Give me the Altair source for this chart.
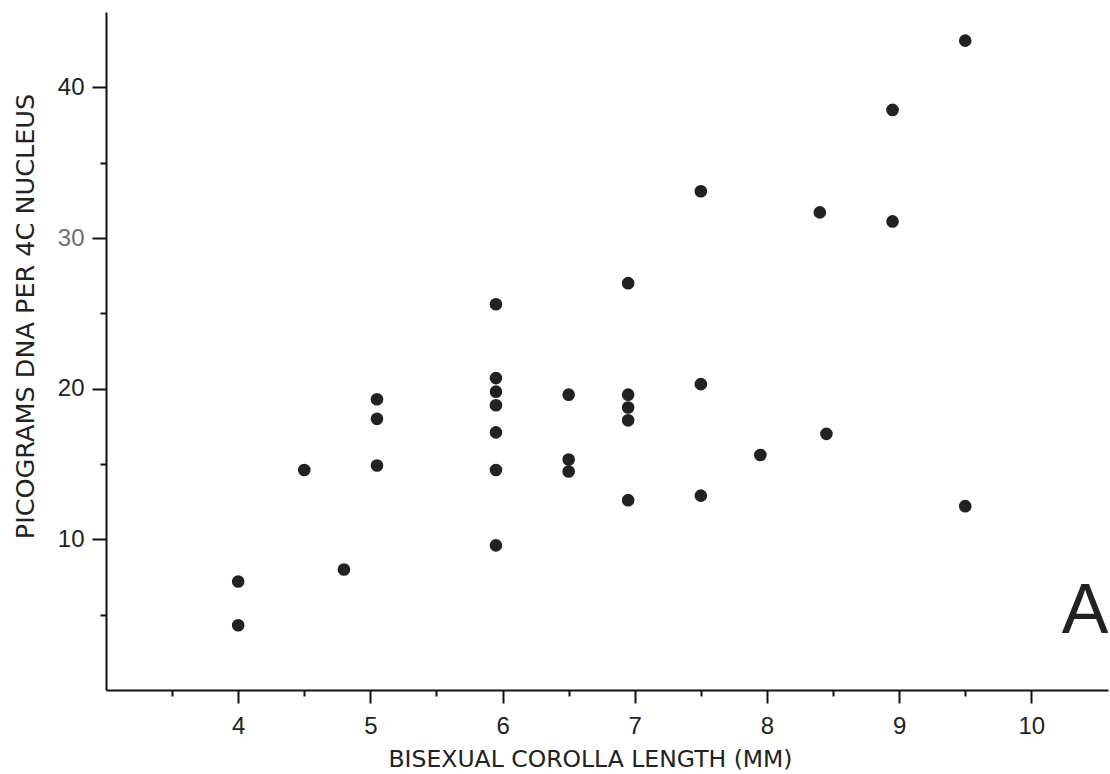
import altair as alt
import pandas as pd

# Bisexual corolla length (mm) and picograms DNA per 4C nucleus
corolla_mm = [4.0, 4.0, 4.5, 4.8, 5.05, 5.05, 5.05,
              5.95, 5.95, 5.95, 5.95, 5.95, 5.95, 5.95,
              6.5, 6.5, 6.5,
              6.95, 6.95, 6.95, 6.95, 6.95,
              7.5, 7.5, 7.5, 7.95, 8.4, 8.45, 8.95, 8.95, 9.5, 9.5]
dna_pg = [7.2, 4.3, 14.6, 8.0, 19.3, 18.0, 14.9,
          25.6, 20.7, 19.8, 18.9, 17.1, 14.6, 9.6,
          19.6, 15.3, 14.5,
          27.0, 19.6, 18.75, 17.9, 12.6,
          33.1, 20.3, 12.9, 15.6, 31.7, 17.0, 38.5, 31.1, 43.1, 12.2]

x_major = [4, 5, 6, 7, 8, 9, 10]
x_minor = [3.5, 4.5, 5.5, 6.5, 7.5, 8.5, 9.5]
y_major = [10, 20, 30, 40]
y_minor = [5, 15, 25, 35]
x_title = "BISEXUAL COROLLA LENGTH (MM)"
y_title = "PICOGRAMS DNA PER 4C NUCLEUS"
panel_label = ["A"]

df = pd.DataFrame({"corolla": corolla_mm, "dna": dna_pg})
lab = pd.DataFrame({"t": panel_label})

W, H = 1002, 678
label_font = "Liberation Sans, Arial, sans-serif"
title_font = "DejaVu Sans, sans-serif"
ink = "#222222"

x_scale = alt.Scale(domain=[3, 10.58], nice=False, zero=False)
y_scale = alt.Scale(domain=[0, 45], nice=False)

x_axis = alt.Axis(
    orient="bottom",
    values=x_major,
    format="d",
    labelOverlap=False,
    tickSize=13,
    labelPadding=11,
    labelFontSize=24,
    labelFont=label_font,
    labelColor=ink,
    grid=False,
    domainColor="#111111",
    domainWidth=2,
    tickColor="#111111",
    tickWidth=2,
    title=x_title,
    titleFont=title_font,
    titleFontSize=23.5,
    titleFontWeight="normal",
    titleColor=ink,
    titleX=484,
    titleY=76,
    titleAlign="center",
    titleBaseline="alphabetic",
)

y_axis = alt.Axis(
    orient="left",
    values=y_major,
    format="d",
    labelOverlap=False,
    tickSize=14,
    labelPadding=8,
    labelFontSize=24,
    labelFont=label_font,
    labelColor={"condition": {"test": "datum.value == 30", "value": "#6e6e6e"}, "value": ink},
    grid=False,
    domainColor="#111111",
    domainWidth=2,
    tickColor="#111111",
    tickWidth=2,
    title=y_title,
    titleFont=title_font,
    titleFontSize=25.5,
    titleFontWeight="normal",
    titleColor=ink,
    titleAngle=-90,
    titleX=-73,
    titleY=304,
    titleAlign="center",
    titleBaseline="alphabetic",
)

x_axis_minor = alt.Axis(
    orient="bottom", values=x_minor, labels=False, domain=False, grid=False,
    tickSize=6, tickWidth=2, tickColor="#111111", title=None,
)
y_axis_minor = alt.Axis(
    orient="left", values=y_minor, labels=False, domain=False, grid=False,
    tickSize=6, tickWidth=2, tickColor="#111111", title=None,
)

points = alt.Chart(df).mark_circle(size=160, color=ink, opacity=1).encode(
    x=alt.X("corolla:Q", scale=x_scale, axis=x_axis),
    y=alt.Y("dna:Q", scale=y_scale, axis=y_axis),
)

minor = alt.Chart(df).mark_circle(size=1, opacity=0).encode(
    x=alt.X("corolla:Q", scale=x_scale, axis=x_axis_minor),
    y=alt.Y("dna:Q", scale=y_scale, axis=y_axis_minor),
)

letter = alt.Chart(lab).mark_text(
    font=label_font, fontSize=70, color=ink, align="center", baseline="alphabetic"
).encode(
    x=alt.value(979),
    y=alt.value(621),
    text="t:N",
)

chart = alt.layer(points, minor, letter).resolve_axis(
    x="independent", y="independent"
).properties(
    width=W,
    height=H,
    autosize=alt.AutoSizeParams(type="none"),
    padding={"left": 106, "top": 12, "right": 2, "bottom": 84},
    background="white",
).configure_view(stroke=None)

chart.save("out.html", embed_options={"renderer": "svg", "actions": False})
